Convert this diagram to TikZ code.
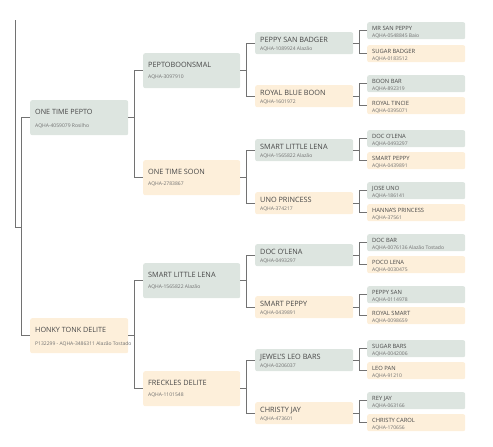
\documentclass[tikz,border=0pt]{standalone}
\usepackage{fontspec}
\setmainfont{Open Sans}
\usetikzlibrary{positioning}

\definecolor{sirebg}{HTML}{DDE5E0}
\definecolor{dambg}{HTML}{FDEFDA}
\definecolor{linkgray}{HTML}{727272}
\definecolor{namegray}{HTML}{474747}
\definecolor{reggray}{HTML}{707070}

\tikzset{
  horsebox/.style={rounded corners=2pt, inner sep=0pt, anchor=north west},
  sire/.style={fill=sirebg},
  dam/.style={fill=dambg},
  link/.style={draw=linkgray, line width=0.9pt},
  genA/.code={\def\bw{98}\def\bh{35}\def\ty{14.6}\def\sy{27.8}\def\tfs{7.2}},
  genB/.code={\def\bw{97}\def\bh{35}\def\ty{14.6}\def\sy{25.8}\def\tfs{7.3}},
  genC/.code={\def\bw{98}\def\bh{22}\def\ty{10.6}\def\sy{18.8}\def\tfs{7.3}},
  genD/.code={\def\bw{98}\def\bh{17}\def\ty{8.2}\def\sy{15.8}\def\tfs{5.8}},
}

% id, generation, sire/dam, top left corner, name, registration
\newcommand{\horse}[6]{%
  \tikzset{#2}
  \node[horsebox, #3, minimum width=\bw pt, minimum height=\bh pt] (#1) at (#4) {};
  \node[anchor=base west, inner sep=0pt, text=namegray, font=\fontsize{\tfs}{\tfs}\selectfont]
    (#1-name) at ([shift={(5,\ty)}]#1.north west) {#5};
  \node[anchor=base west, inner sep=0pt, text=reggray, font=\fontsize{5}{5}\selectfont]
    (#1-reg) at ([shift={(5,\sy)}]#1.north west) {#6};
}

\begin{document}
\begin{tikzpicture}[x=1pt, y=-1pt]
\useasboundingbox (0,0) rectangle (493,447);

% generation 1
\horse{otp}{genA}{sire}{30,100}{ONE TIME PEPTO}{AQHA-4059079 Rosilho}
\horse{htd}{genA}{dam}{30,318}{HONKY TONK DELITE}{P132299 - AQHA-3486311 Alazão Tostado}

% generation 2
\horse{ptb}{genB}{sire}{143,53}{PEPTOBOONSMAL}{AQHA-3097910}
\horse{ots}{genB}{dam}{143,160}{ONE TIME SOON}{AQHA-2783867}
\horse{sllb}{genB}{sire}{143,263}{SMART LITTLE LENA}{AQHA-1565822 Alazão}
\horse{fd}{genB}{dam}{143,371}{FRECKLES DELITE}{AQHA-1101548}

% generation 3
\horse{psb}{genC}{sire}{255,32}{PEPPY SAN BADGER}{AQHA-1089924 Alazão}
\horse{rbb}{genC}{dam}{255,85}{ROYAL BLUE BOON}{AQHA-1601972}
\horse{sllc}{genC}{sire}{255,139}{SMART LITTLE LENA}{AQHA-1565822 Alazão}
\horse{uno}{genC}{dam}{255,192}{UNO PRINCESS}{AQHA-374217}
\horse{dolc}{genC}{sire}{255,244}{DOC O'LENA}{AQHA-0493297}
\horse{spc}{genC}{dam}{255,296}{SMART PEPPY}{AQHA-0439891}
\horse{jlb}{genC}{sire}{255,349}{JEWEL'S LEO BARS}{AQHA-0206037}
\horse{cj}{genC}{dam}{255,402}{CHRISTY JAY}{AQHA-473601}

% generation 4
\horse{msp}{genD}{sire}{367,22}{MR SAN PEPPY}{AQHA-0548845 Baio}
\horse{sb}{genD}{dam}{367,45}{SUGAR BADGER}{AQHA-0183512}
\horse{bb}{genD}{sire}{367,75}{BOON BAR}{AQHA-892319}
\horse{rt}{genD}{dam}{367,97}{ROYAL TINCIE}{AQHA-0395071}
\horse{dold}{genD}{sire}{367,130}{DOC O'LENA}{AQHA-0493297}
\horse{spd}{genD}{dam}{367,152}{SMART PEPPY}{AQHA-0439891}
\horse{ju}{genD}{sire}{367,182}{JOSE UNO}{AQHA-186141}
\horse{hp}{genD}{dam}{367,204}{HANNA'S PRINCESS}{AQHA-37561}
\horse{db}{genD}{sire}{367,234}{DOC BAR}{AQHA-0076136 Alazão Tostado}
\horse{pl}{genD}{dam}{367,256}{POCO LENA}{AQHA-0030475}
\horse{ps}{genD}{sire}{367,286}{PEPPY SAN}{AQHA-0114978}
\horse{rs}{genD}{dam}{367,307}{ROYAL SMART}{AQHA-0098659}
\horse{sgb}{genD}{sire}{367,340}{SUGAR BARS}{AQHA-0042006}
\horse{lp}{genD}{dam}{367,362}{LEO PAN}{AQHA-91210}
\horse{rj}{genD}{sire}{367,392}{REY JAY}{AQHA-063166}
\horse{cc}{genD}{dam}{367,414}{CHRISTY CAROL}{AQHA-170656}

% root link
\coordinate (root) at (15,20);
\coordinate (fork) at (21,227);
\draw[link] (root) |- (fork);
\draw[link] (fork) |- (otp.west);
\draw[link] (fork) |- (htd.west);

% parent to sire and dam
\foreach \p/\s/\d in {otp/ptb/ots, htd/sllb/fd,
    ptb/psb/rbb, ots/sllc/uno, sllb/dolc/spc, fd/jlb/cj,
    psb/msp/sb, rbb/bb/rt, sllc/dold/spd, uno/ju/hp,
    dolc/db/pl, spc/ps/rs, jlb/sgb/lp, cj/rj/cc} {
  \draw[link] (\p.east) -- ++(6,0) coordinate (\p-fork);
  \draw[link] (\p-fork) |- (\s.west);
  \draw[link] (\p-fork) |- (\d.west);
}
\end{tikzpicture}
\end{document}
